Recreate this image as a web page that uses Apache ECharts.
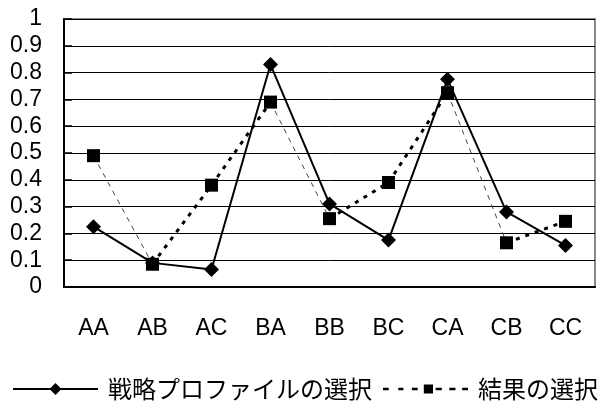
<!DOCTYPE html>
<html>
<head>
<meta charset="utf-8">
<script src="https://cdn.jsdelivr.net/npm/echarts@6/dist/echarts.min.js"></script>
<style>
  html, body { margin: 0; padding: 0; background: #fff; }
  #chart { width: 606px; height: 403px; }
</style>
</head>
<body>
<div id="chart"></div>
<script>
// Categories and the two compared selection rates
const categories = ['AA', 'AB', 'AC', 'BA', 'BB', 'BC', 'CA', 'CB', 'CC'];
const strategyName = '戦略プロファイルの選択';
const resultName = '結果の選択';
const strategyValues = [0.225, 0.09, 0.065, 0.83, 0.31, 0.175, 0.775, 0.28, 0.155];
const resultValues = [0.49, 0.085, 0.38, 0.69, 0.255, 0.39, 0.725, 0.165, 0.245];
const yTicks = [0, 0.1, 0.2, 0.3, 0.4, 0.5, 0.6, 0.7, 0.8, 0.9, 1];

const latin = "'Liberation Sans', Arial, sans-serif";
const cjk = "'Noto Sans CJK JP', 'Liberation Sans', sans-serif";

// Legend key for the result series: short dashes either side of a small square
const resultKeyIcon = 'path://' +
  'M0 3.25h5.6v2.5h-5.6Z M15 3.25h5v2.5h-5Z M28.3 3.25h5.7v2.5h-5.7Z ' +
  'M40 0h9v9h-9Z ' +
  'M51.6 3.25h6v2.5h-6Z M65 3.25h6v2.5h-6Z M77.6 3.25h5.7v2.5h-5.7Z';

// Dotted connector of the result series, drawn one segment at a time:
// rising segments heavy dots, falling segments a fine dashed line.
const segmentSeries = [];
for (let i = 0; i < resultValues.length - 1; i++) {
  const rising = resultValues[i + 1] > resultValues[i];
  segmentSeries.push({
    type: 'line',
    silent: true,
    symbol: 'none',
    z: 1,
    data: categories.map((c, j) => (j === i || j === i + 1) ? resultValues[j] : null),
    lineStyle: rising
      ? { color: '#000', width: 3, type: [4, 6] }
      : { color: '#444', width: 1, type: [5, 5] }
  });
}

const chart = echarts.init(document.getElementById('chart'), null, { renderer: 'canvas' });
chart.setOption({
  animation: false,
  backgroundColor: '#fff',
  grid: {
    left: 64, right: 11, top: 19, bottom: 116,
    show: true, borderColor: '#888', borderWidth: 2, backgroundColor: 'transparent'
  },
  legend: {
    left: 12, top: 377, width: 594, padding: 0,
    itemWidth: 85, itemHeight: 15, itemGap: 11,
    symbolKeepAspect: true,
    textStyle: { fontFamily: cjk, fontSize: 24, color: '#000', padding: [0, 0, 0, 5] },
    data: [
      { name: strategyName },
      { name: resultName, icon: resultKeyIcon }
    ]
  },
  xAxis: {
    type: 'category',
    data: categories,
    boundaryGap: true,
    axisLine: { lineStyle: { color: '#000', width: 2 } },
    axisTick: { inside: true, length: 7, lineStyle: { color: '#000', width: 1.5 } },
    axisLabel: { margin: 30, fontFamily: latin, fontSize: 23, color: '#000' },
    splitLine: { show: false }
  },
  yAxis: {
    type: 'value',
    min: 0, max: 1, interval: 0.1,
    axisLine: { show: true, lineStyle: { color: '#000', width: 2 } },
    axisTick: { show: true, inside: true, length: 8, lineStyle: { color: '#000', width: 1.5 } },
    axisLabel: {
      margin: 22, fontFamily: latin, fontSize: 23, color: '#000',
      formatter: v => String(yTicks.find(t => Math.abs(t - v) < 1e-6) ?? v)
    },
    splitLine: { show: true, lineStyle: { color: '#000', width: 1 } }
  },
  series: [
    ...segmentSeries,
    {
      name: resultName,
      type: 'line',
      data: resultValues,
      symbol: 'rect',
      symbolSize: 13,
      z: 3,
      itemStyle: { color: '#000' },
      lineStyle: { opacity: 0 }
    },
    {
      name: strategyName,
      type: 'line',
      data: strategyValues,
      symbol: 'diamond',
      symbolSize: 15,
      z: 4,
      itemStyle: { color: '#000' },
      lineStyle: { color: '#000', width: 2, type: 'solid' }
    }
  ]
});
</script>
</body>
</html>
